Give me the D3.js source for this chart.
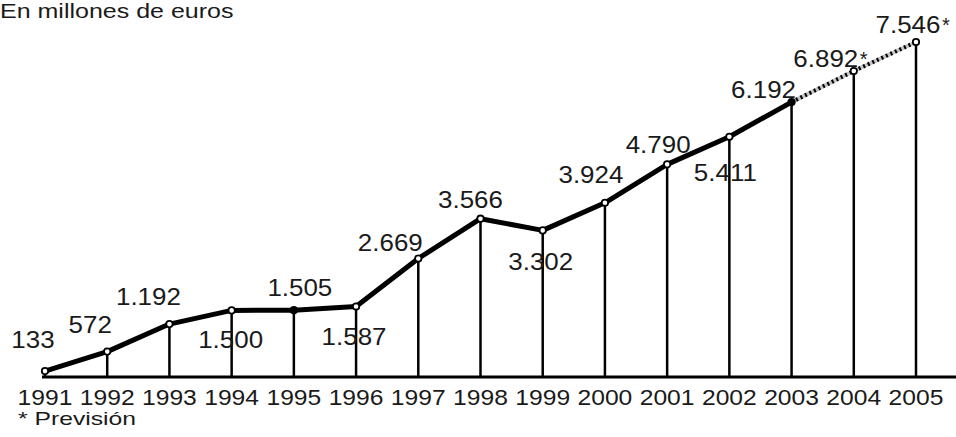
<!DOCTYPE html>
<html>
<head>
<meta charset="utf-8">
<script src="https://cdn.jsdelivr.net/npm/d3@7"></script>
<style>
  body { margin: 0; background: #fff; }
  text { font-family: "Liberation Sans", Arial, sans-serif; fill: #1a1a1a; }
</style>
</head>
<body>
<svg id="chartSvg" width="956" height="437"></svg>
<script>
const chartSvg = d3.select("#chartSvg");

// data
const years = ["1991", "1992", "1993", "1994", "1995", "1996", "1997", "1998",
               "1999", "2000", "2001", "2002", "2003", "2004", "2005"];
const values = [133, 572, 1192, 1500, 1505, 1587, 2669, 3566,
                3302, 3924, 4790, 5411, 6192, 6892, 7546];
const valueLabels = ["133", "572", "1.192", "1.500", "1.505", "1.587", "2.669", "3.566",
                     "3.302", "3.924", "4.790", "5.411", "6.192", "6.892", "7.546"];
const forecastYears = ["2003", "2004", "2005"];
const starredYears = ["2004", "2005"];
const solidMarks = ["1995", "2003"];

// where each value label sits relative to its point [dx, dy]
const labelOffsets = [[-12, -23], [-17, -19], [-21, -19], [-1, 38], [6, -14], [-2, 38],
                      [-28, -8], [-10, -11], [-2, 40], [-14, -20], [-9, -11], [-4, 44],
                      [-28, -4], [-28, -4], [-8, -9]];

let xScale = d3.scalePoint().domain(years).range([45, 916]);
let yScale = d3.scaleLinear().domain([0, 7546]).range([377, 42]);

let rows = years.map(function (y, i) {
  return { year: y, value: values[i], label: valueLabels[i], off: labelOffsets[i] };
});

// stretch a text horizontally (the source font is wider than Arial)
function stretch(sel, factor) {
  sel.each(function () {
    let w = this.getComputedTextLength();
    d3.select(this).attr("textLength", w * factor).attr("lengthAdjust", "spacingAndGlyphs");
  });
}

function drawBase() {
  // baseline
  chartSvg.append("line")
    .attr("x1", 42).attr("x2", 956)
    .attr("y1", yScale(0)).attr("y2", yScale(0))
    .style("stroke", "black")
    .style("stroke-width", 3);

  // drop lines
  chartSvg.selectAll(".drop")
    .data(rows)
    .enter().append("line")
    .attr("class", "drop")
    .attr("x1", function (d) { return xScale(d.year); })
    .attr("x2", function (d) { return xScale(d.year); })
    .attr("y1", function (d) { return yScale(d.value); })
    .attr("y2", yScale(0))
    .style("stroke", "black")
    .style("stroke-width", 2.5);

  // year labels
  let yl = chartSvg.selectAll(".year")
    .data(years)
    .enter().append("text")
    .attr("class", "year")
    .attr("x", function (d) { return xScale(d); })
    .attr("y", 405)
    .attr("text-anchor", "middle")
    .style("font-size", "22px")
    .text(function (d) { return d; });
  stretch(yl, 1.12);
}

function drawLine() {
  let line = d3.line()
    .x(function (d) { return xScale(d.year); })
    .y(function (d) { return yScale(d.value); });

  let real = rows.filter(function (d) { return +d.year <= +forecastYears[0]; });
  let forecast = rows.filter(function (d) { return forecastYears.indexOf(d.year) >= 0; });

  chartSvg.append("path")
    .datum(real)
    .attr("d", line)
    .style("fill", "none")
    .style("stroke", "black")
    .style("stroke-width", 5)
    .style("stroke-linejoin", "round");

  // dotted forecast part
  chartSvg.append("path")
    .datum(forecast)
    .attr("d", line)
    .style("fill", "none")
    .style("stroke", "#c4c4c4")
    .style("stroke-width", 4);
  chartSvg.append("path")
    .datum(forecast)
    .attr("d", line)
    .style("fill", "none")
    .style("stroke", "black")
    .style("stroke-width", 4)
    .style("stroke-dasharray", "2,3");

  chartSvg.selectAll(".mark")
    .data(rows)
    .enter().append("circle")
    .attr("class", "mark")
    .attr("cx", function (d) { return xScale(d.year); })
    .attr("cy", function (d) { return yScale(d.value); })
    .attr("r", 3.2)
    .style("fill", function (d) { return solidMarks.indexOf(d.year) >= 0 ? "black" : "white"; })
    .style("stroke", "black")
    .style("stroke-width", 1.8);
}

function drawTexts() {
  let vl = chartSvg.selectAll(".val")
    .data(rows)
    .enter().append("text")
    .attr("class", "val")
    .attr("x", function (d) { return xScale(d.year) + d.off[0]; })
    .attr("y", function (d) { return yScale(d.value) + d.off[1]; })
    .attr("text-anchor", "middle")
    .style("font-size", "24px")
    .text(function (d) { return d.label; });
  stretch(vl, 1.08);

  // forecast asterisk right after the label
  chartSvg.selectAll(".star")
    .data(rows.filter(function (d) { return starredYears.indexOf(d.year) >= 0; }))
    .enter().append("text")
    .attr("class", "star")
    .attr("x", function (d) { return xScale(d.year) + d.off[0] + 34; })
    .attr("y", function (d) { return yScale(d.value) + d.off[1] - 1; })
    .style("font-size", "20px")
    .text("*");

  let title = chartSvg.append("text")
    .attr("x", 0)
    .attr("y", 18)
    .style("font-size", "20px")
    .text("En millones de euros");
  stretch(title, 1.25);

  let note = chartSvg.append("text")
    .attr("x", 18)
    .attr("y", 425)
    .style("font-size", "19px")
    .text("* Previsión");
  stretch(note, 1.3);
}

drawBase();
drawLine();
drawTexts();
</script>
</body>
</html>
